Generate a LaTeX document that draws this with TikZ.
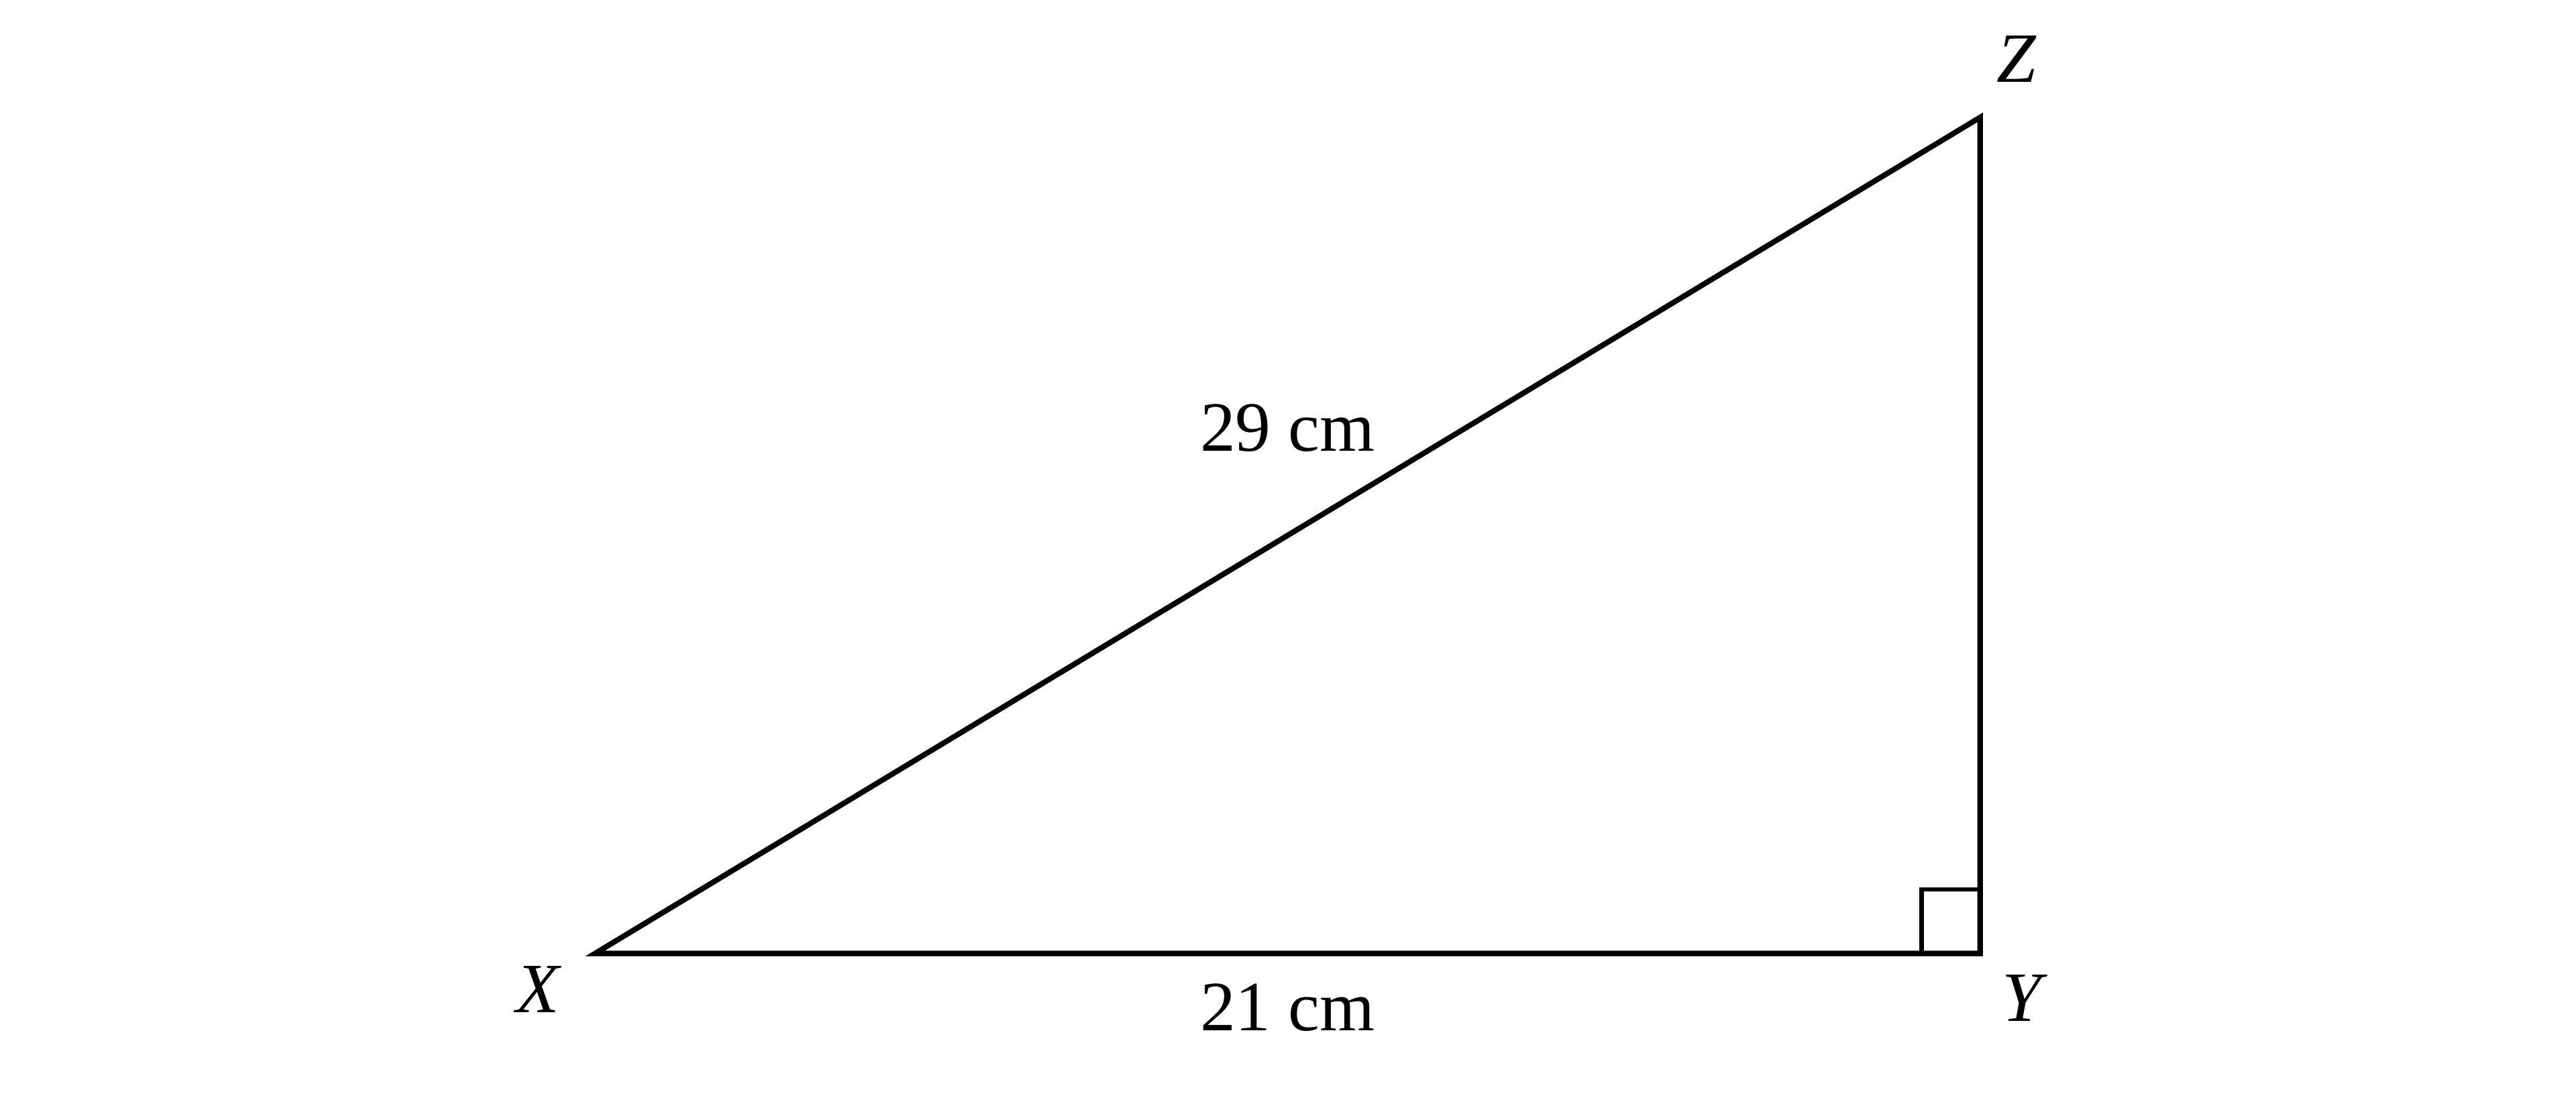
\documentclass[tikz,border=0pt]{standalone}
\usepackage{fontspec}
\setmainfont{Liberation Serif}
\usetikzlibrary{positioning}

\begin{document}
\begin{tikzpicture}[
    lbl/.style = {
        inner sep=0pt, outer sep=0pt, font=\fontsize{30}{36}\selectfont
    },
    vlbl/.style = {lbl, font=\fontsize{30}{36}\selectfont\itshape},
    side/.style = {draw=black, line width=2.3pt, line join=miter},
    rabox/.style = {draw=black, line width=1.85pt}
]
\useasboundingbox (0,0) rectangle (38.4,16.3);

% ---- Vertices ----
\coordinate (X) at (8.87,2.085);
\coordinate (Y) at (29.517,2.085);
\coordinate (Z) at (29.517,14.55);

% ---- Triangle ----
\draw[side] (X) -- node[lbl, below=0.455cm] (base) {21 cm} (Y)
    -- (Z) -- node[lbl, above=1.25cm] (hyp) {29 cm} cycle;

% ---- Right angle ----
\draw[rabox] (Y) ++(-0.872,0) -- ++(0,0.955) -- ++(0.872,0);

% ---- Vertex labels ----
\node[vlbl, below left=0.185cm and 0.53cm of X] (labX) {X};
\node[vlbl, below right=0.315cm and 0.33cm of Y] (labY) {Y};
\node[vlbl, above right=0.52cm and 0.25cm of Z] (labZ) {Z};

\end{tikzpicture}
\end{document}
